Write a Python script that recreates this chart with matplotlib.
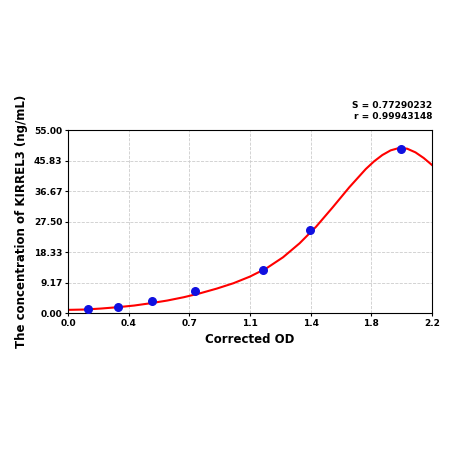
import matplotlib
matplotlib.use('Agg')
import matplotlib.pyplot as plt

# measured points
od = [0.12, 0.30, 0.51, 0.77, 1.18, 1.46, 2.01]
conc = [1.2, 1.8, 3.6, 6.6, 12.9, 24.9, 49.3]

# fitted curve
curve_x = [0.0, 0.1, 0.2, 0.3, 0.4, 0.5, 0.6, 0.7, 0.8, 0.9, 1.0, 1.1, 1.2, 1.3, 1.4, 1.5, 1.6,
           1.7, 1.8, 1.85, 1.9, 1.95, 2.0, 2.05, 2.1, 2.15, 2.2]
curve_y = [1.0, 1.1, 1.4, 1.8, 2.3, 3.0, 3.8, 4.8, 6.0, 7.4, 9.0, 11.0, 13.5, 16.8, 21.0, 26.0, 31.8,
           37.8, 43.3, 45.6, 47.5, 48.9, 49.6, 49.4, 48.3, 46.6, 44.5]

xtick_labels = ['0.0', '0.4', '0.7', '1.1', '1.4', '1.8', '2.2']
ytick_labels = ['0.00', '9.17', '18.33', '27.50', '36.67', '45.83', '55.00']

fig = plt.figure(figsize=(4.5, 4.5), dpi=100)
ax = fig.add_axes([0.151, 0.304, 0.809, 0.407])
ax.plot(curve_x, curve_y, color='red', lw=1.5, zorder=2)
ax.scatter(od, conc, color='#1010e0', s=30, zorder=3)
ax.set_xlim(0, 2.2)
ax.set_ylim(0, 55)
ax.set_xticks([i * 2.2 / 6 for i in range(7)])
ax.set_xticklabels(xtick_labels, fontsize=6.5, fontweight='bold')
ax.set_yticks([i * 55 / 6 for i in range(7)])
ax.set_yticklabels(ytick_labels, fontsize=6.5, fontweight='bold')
ax.grid(True, color='#cccccc', ls='--', lw=0.6)
ax.tick_params(length=2, pad=2)
ax.set_xlabel('Corrected OD', fontsize=8.5, fontweight='bold')
ax.set_ylabel('The concentration of KIRREL3 (ng/mL)', fontsize=8.5, fontweight='bold')
fig.text(0.96, 0.76, 'S = 0.77290232', ha='right', fontsize=6.5, fontweight='bold')
fig.text(0.96, 0.735, 'r = 0.99943148', ha='right', fontsize=6.5, fontweight='bold')
fig.savefig('out.png', dpi=100)
